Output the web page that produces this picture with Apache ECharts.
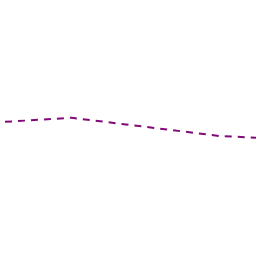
<!DOCTYPE html>
<html>
<head>
<meta charset="utf-8">
<script src="https://cdn.jsdelivr.net/npm/echarts@6/dist/echarts.min.js"></script>
<style>
  html, body { margin: 0; padding: 0; background: #fff; }
  #chart { width: 256px; height: 256px; }
</style>
</head>
<body>
<div id="chart"></div>
<script>
let xValues = [0, 9, 29, 34]
let yValues = [52.4, 54.0, 46.9, 46.2]

let chart = echarts.init(document.getElementById('chart'))
let option = {
  animation: false,
  grid: { left: 5, right: 0, top: 0, bottom: 0 },
  xAxis: {
    type: 'value',
    min: 0,
    max: 34,
    show: false
  },
  yAxis: {
    type: 'value',
    min: 0,
    max: 100,
    show: false
  },
  series: [
    {
      type: 'line',
      data: xValues.map((x, i) => [x, yValues[i]]),
      showSymbol: false,
      lineStyle: {
        color: '#820a78',
        width: 2,
        type: [7, 6]
      }
    }
  ]
}
chart.setOption(option)
</script>
</body>
</html>
